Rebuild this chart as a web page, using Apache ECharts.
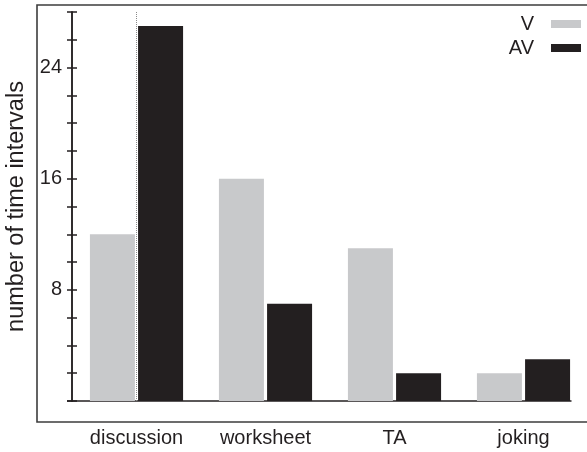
<!DOCTYPE html>
<html>
<head>
<meta charset="utf-8">
<script src="https://cdn.jsdelivr.net/npm/echarts@6/dist/echarts.min.js"></script>
<style>
  html, body { margin: 0; padding: 0; background: #fff; }
  #chart { width: 587px; height: 452px; }
</style>
</head>
<body>
<div id="chart"></div>
<script>
// Activity categories and counts of time intervals per condition
const categories = ['discussion', 'worksheet', 'TA', 'joking'];
const seriesNames = ['V', 'AV'];
const valuesV = [12, 16, 11, 2];
const valuesAV = [27, 7, 2, 3];
const yTickLabels = [8, 16, 24];

const ink = '#231f20';
const font = 'Liberation Sans, Arial, Helvetica, sans-serif';

const chart = echarts.init(document.getElementById('chart'), null, { renderer: 'canvas' });

const yBase = {
  type: 'value',
  min: 0,
  max: 28,
  interval: 2,
  position: 'left',
  splitLine: { show: false },
  axisLine: { show: true, lineStyle: { color: ink, width: 1.5 } }
};

const option = {
  animation: false,
  backgroundColor: '#fff',
  textStyle: { fontFamily: font },
  // plot area runs slightly past the right edge; keep it exactly where placed
  grid: { left: 72, right: -1, top: 12, bottom: 51, outerBoundsMode: 'none', containLabel: false },
  legend: {
    orient: 'vertical',
    right: 6,
    top: 14,
    padding: 0,
    align: 'right',
    itemWidth: 30,
    itemHeight: 8,
    itemGap: 4,
    icon: 'rect',
    data: seriesNames,
    textStyle: { fontSize: 20, lineHeight: 20, color: ink, fontFamily: font, padding: [0, 12, 0, 0] }
  },
  xAxis: {
    type: 'category',
    data: categories,
    axisLine: { show: false },
    axisTick: { show: false },
    axisLabel: { fontSize: 20, color: ink, fontFamily: font, margin: 27 }
  },
  yAxis: [
    Object.assign({}, yBase, {
      name: 'number of time intervals',
      nameLocation: 'middle',
      nameGap: 37,
      nameTextStyle: { fontSize: 23.5, color: ink, fontFamily: font },
      axisTick: { show: true, inside: false, length: 5, lineStyle: { color: ink, width: 1.5 } },
      axisLabel: {
        fontSize: 20, color: ink, fontFamily: font, margin: 10,
        formatter: v => (yTickLabels.indexOf(v) >= 0 ? String(v) : '')
      }
    }),
    Object.assign({}, yBase, {
      axisTick: { show: true, inside: true, length: 5, lineStyle: { color: ink, width: 1.5 } },
      axisLabel: { show: false }
    })
  ],
  series: [
    {
      name: 'V',
      type: 'bar',
      data: valuesV,
      barWidth: 45,
      barGap: '7%',
      itemStyle: { color: '#c8c9cb' }
    },
    {
      name: 'AV',
      type: 'bar',
      data: valuesAV,
      barWidth: 45,
      itemStyle: { color: ink }
    },
    {
      // dotted divider through the middle of the first category
      name: 'divider',
      type: 'line',
      data: [],
      silent: true,
      markLine: {
        silent: true,
        symbol: 'none',
        label: { show: false },
        lineStyle: { color: '#8a8a8a', type: 'dotted', width: 1 },
        data: [{ xAxis: categories[0] }]
      }
    }
  ]
};

chart.setOption(option);

// Outer frame (open on the right) and the baseline, which stops just past the last bar
const y0 = chart.convertToPixel({ yAxisIndex: 0 }, 0);
const lastCenter = chart.convertToPixel({ xAxisIndex: 0 }, categories[categories.length - 1]);
chart.setOption({
  graphic: [
    {
      type: 'rect',
      shape: { x: 37, y: 5, width: 620, height: 417 },
      style: { fill: 'none', stroke: '#3d3d3d', lineWidth: 1.6 },
      silent: true
    },
    {
      type: 'line',
      shape: { x1: 67, y1: y0, x2: lastCenter + 48, y2: y0 },
      style: { stroke: ink, lineWidth: 1.5 },
      silent: true
    }
  ]
});
</script>
</body>
</html>
